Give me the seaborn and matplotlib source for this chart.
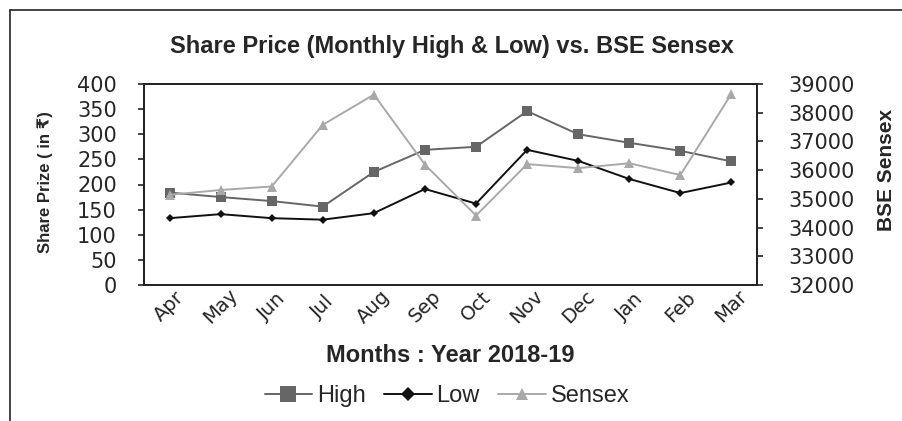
import pandas as pd
import seaborn as sns
import matplotlib.pyplot as plt
from matplotlib.lines import Line2D

# monthly values
months = ['Apr', 'May', 'Jun', 'Jul', 'Aug', 'Sep', 'Oct', 'Nov', 'Dec', 'Jan', 'Feb', 'Mar']
high = [184, 175, 167, 156, 225, 269, 275, 346, 300, 283, 267, 246]
low = [133, 141, 133, 130, 143, 191, 162, 269, 247, 211, 183, 204]
sensex = [35140, 35310, 35430, 37580, 38630, 36190, 34420, 36210, 36070, 36240, 35830, 38660]

data = pd.DataFrame({'month': months, 'High': high, 'Low': low, 'Sensex': sensex})

sns.set_style('white')
plt.rcParams['font.family'] = ['Liberation Sans', 'DejaVu Sans']

fig = plt.figure(figsize=(9.02, 4.21), dpi=100)
ax = fig.add_axes([144 / 902, 1 - 285 / 421, 613 / 902, 201 / 421])
ax2 = ax.twinx()

c_high, c_low, c_sen = '#666666', '#111111', '#a9a9a9'
sns.lineplot(data=data, x='month', y='High', ax=ax, color=c_high, marker='s',
             markersize=7, linewidth=1.4, markeredgewidth=0, sort=False)
sns.lineplot(data=data, x='month', y='Low', ax=ax, color=c_low, marker='D',
             markersize=4.5, linewidth=1.4, markeredgewidth=0, sort=False)
sns.lineplot(data=data, x='month', y='Sensex', ax=ax2, color=c_sen, marker='^',
             markersize=7, linewidth=1.4, markeredgewidth=0, sort=False)

ax.set_xlim(-0.5, len(months) - 0.5)
ax.set_ylim(0, 400)
ax.set_yticks(range(0, 401, 50))
ax2.set_ylim(32000, 39000)
ax2.set_yticks(range(32000, 39001, 1000))

# month labels centred under each category, tick marks on the category borders
ax.set_xticks(range(len(months)))
ax.set_xticklabels(months, rotation=45, ha='center', va='center', rotation_mode='anchor',
                   fontsize=14, family='DejaVu Sans')
ax.set_xticks([i - 0.5 for i in range(len(months) + 1)], minor=True)
ax.tick_params(axis='x', which='major', length=0, pad=15.5)
ax.tick_params(axis='x', which='minor', length=8, width=1.2, direction='inout', color='#222222')
ax.tick_params(axis='y', length=4.5, width=1.2, direction='out', color='#222222', pad=15)
ax2.tick_params(axis='y', length=4.5, width=1.2, direction='out', color='#222222', pad=18)
plt.setp(ax.get_yticklabels(), family='DejaVu Sans', fontsize=15)
plt.setp(ax2.get_yticklabels(), family='DejaVu Sans', fontsize=15)

for a in (ax, ax2):
    for s in a.spines.values():
        s.set_color('#222222')
        s.set_linewidth(1.3)
    a.grid(False)

ax.set_xlabel('Months : Year 2018-19', fontsize=17, fontweight='bold')
ax.xaxis.set_label_coords(0.499, -0.35)
ax.xaxis.label.set_va('center')
ax.set_ylabel('Share Prize ( in ₹)', fontsize=12, fontweight='bold')
ax.yaxis.set_label_coords(-0.1615, 0.51)
ax.yaxis.label.set_va('center')
ax2.set_ylabel('BSE Sensex', fontsize=15, fontweight='bold')
ax2.yaxis.set_label_coords(1.212, 0.572)
ax2.yaxis.label.set_va('center')

fig.text(0.501, 1 - 47 / 421, 'Share Price (Monthly High & Low) vs. BSE Sensex', ha='center', va='center',
         fontsize=17, fontweight='bold')

handles = [
    Line2D([], [], color=c_high, marker='s', markersize=12, linewidth=1.4, markeredgewidth=0),
    Line2D([], [], color=c_low, marker='D', markersize=7, linewidth=1.4, markeredgewidth=0),
    Line2D([], [], color=c_sen, marker='^', markersize=9, linewidth=1.4, markeredgewidth=0),
]
fig.legend(handles, ['High', 'Low', 'Sensex'], loc='center', bbox_to_anchor=(447 / 902, 1 - 396 / 421), ncol=3,
           frameon=False, fontsize=17, handlelength=2.0, handletextpad=0.2, columnspacing=0.8,
           borderpad=0, borderaxespad=0)

# page frame (top and left edge)
fig.add_artist(Line2D([10 / 902, 1], [1 - 10 / 421, 1 - 10 / 421], transform=fig.transFigure,
                      color='#222222', linewidth=1.2))
fig.add_artist(Line2D([10 / 902, 10 / 902], [0, 1 - 10 / 421], transform=fig.transFigure,
                      color='#222222', linewidth=1.2))

fig.savefig('out.png', dpi=100)
plt.close()
